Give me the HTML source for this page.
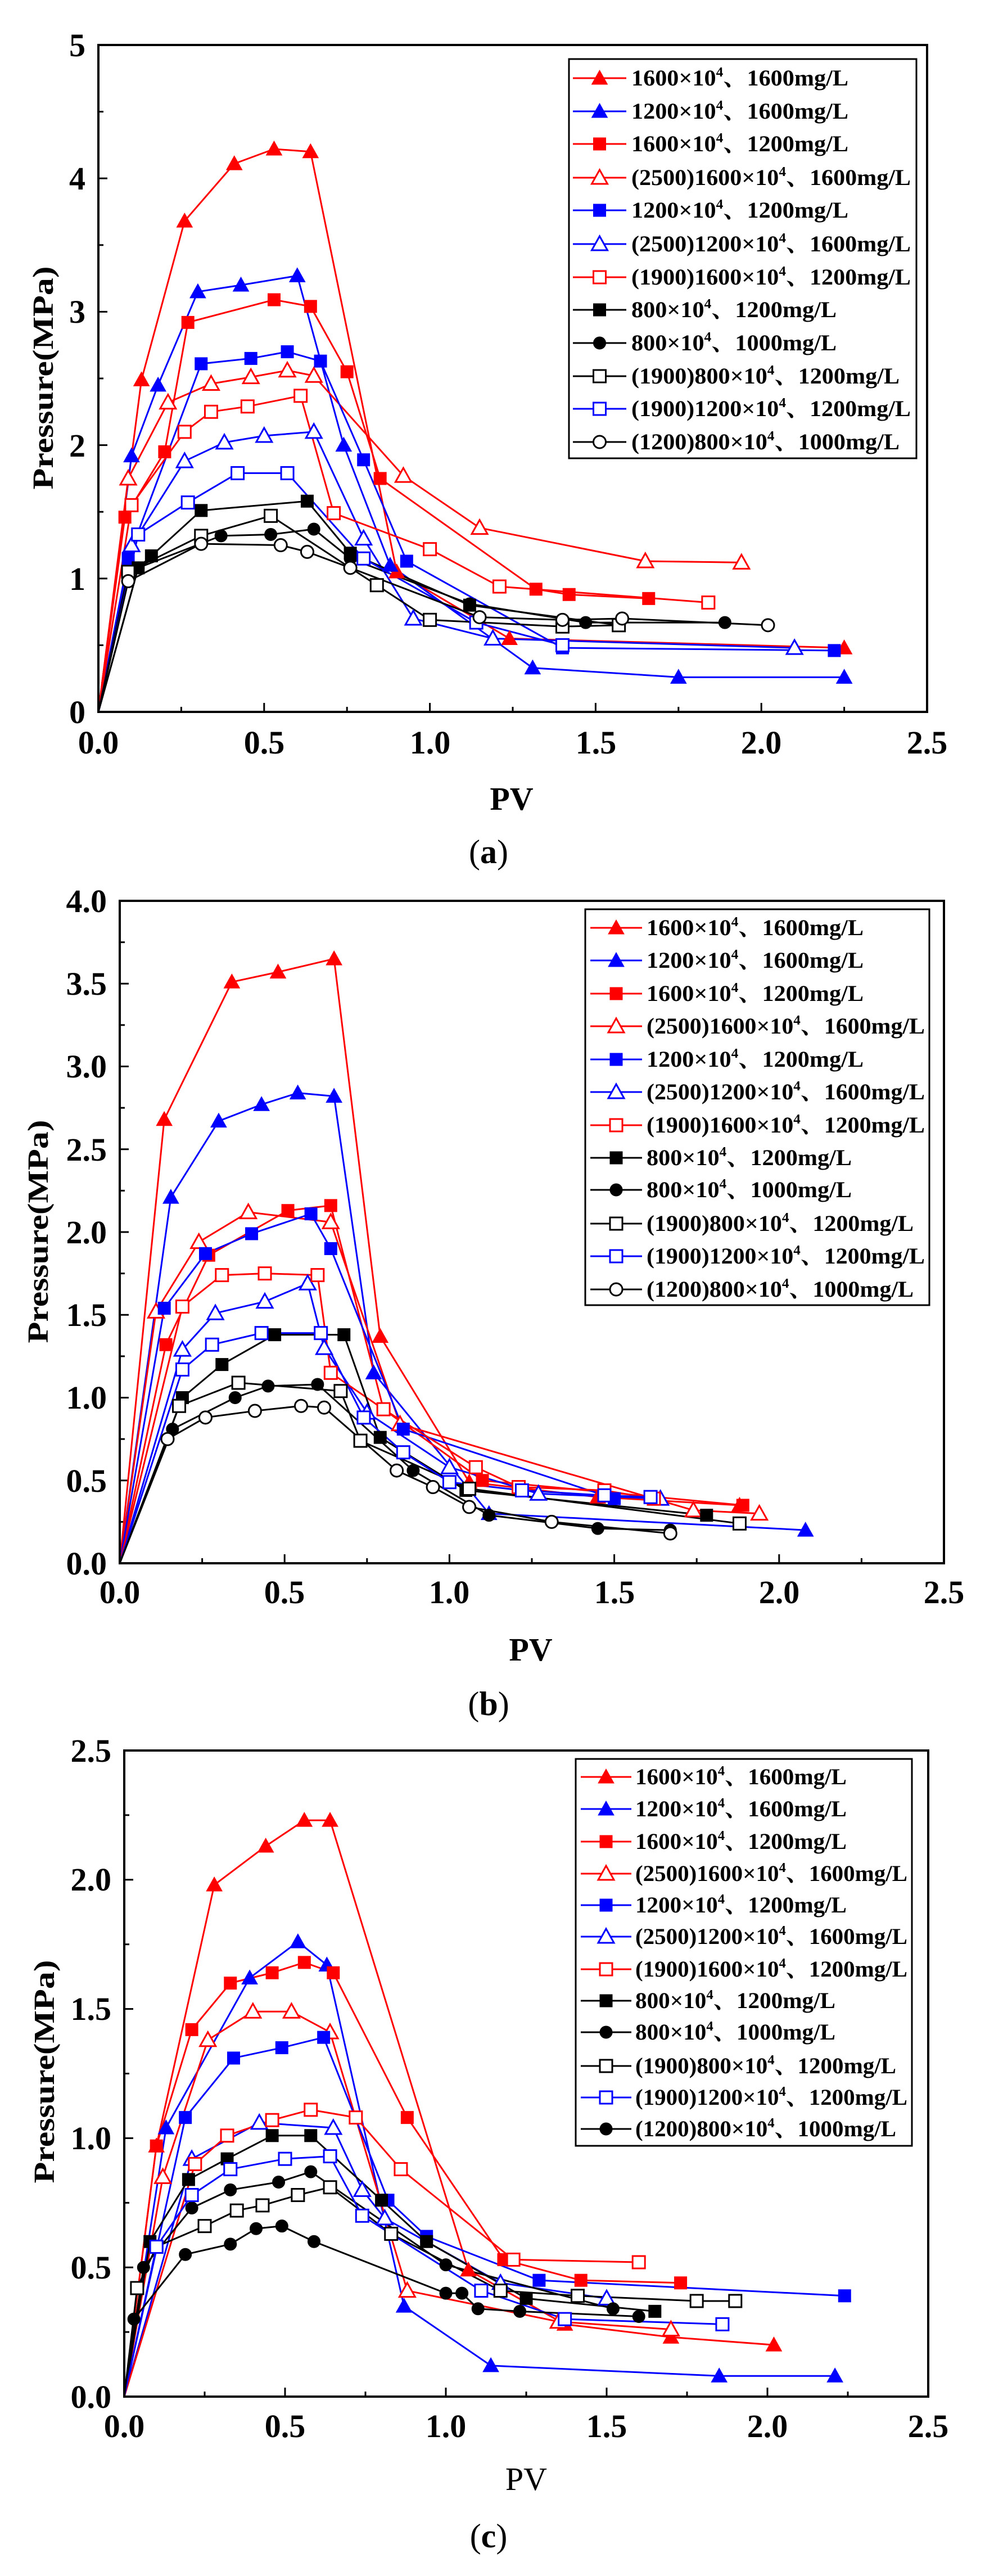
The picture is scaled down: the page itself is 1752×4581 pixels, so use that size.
<!DOCTYPE html>
<html><head><meta charset="utf-8"><style>
html,body{margin:0;padding:0;background:#fff;}
svg{display:block;}
text{font-family:"Liberation Serif","Noto Serif CJK SC",serif;}
</style></head><body>
<svg id="s" width="1752" height="4581" viewBox="0 0 1752 4581" xmlns="http://www.w3.org/2000/svg">
<rect width="1752" height="4581" fill="#fff"/>
<g id="plots"></g>
<!-- Panel a text -->
<g font-weight="bold" font-size="58" text-anchor="end">
<text x="152" y="1286">0</text><text x="152" y="1049">1</text><text x="152" y="812">2</text><text x="152" y="574">3</text><text x="152" y="337">4</text><text x="152" y="100">5</text>
</g>
<g font-weight="bold" font-size="58" text-anchor="middle">
<text x="175" y="1340">0.0</text><text x="470" y="1340">0.5</text><text x="765" y="1340">1.0</text><text x="1060" y="1340">1.5</text><text x="1354" y="1340">2.0</text><text x="1649" y="1340">2.5</text>
<text x="910" y="1440">PV</text>
</g>
<text font-weight="bold" font-size="52" text-anchor="middle" transform="translate(94,672) rotate(-90)" textLength="397" lengthAdjust="spacingAndGlyphs">Pressure(MPa)</text>
<text x="869" y="1535" font-size="60" text-anchor="middle">(<tspan font-weight="bold">a</tspan>)</text>

<!-- Panel b text -->
<g font-weight="bold" font-size="58" text-anchor="end">
<text x="190" y="2800">0.0</text><text x="190" y="2653">0.5</text><text x="190" y="2505">1.0</text><text x="190" y="2358">1.5</text><text x="190" y="2211">2.0</text><text x="190" y="2064">2.5</text><text x="190" y="1916">3.0</text><text x="190" y="1769">3.5</text><text x="190" y="1622">4.0</text>
</g>
<g font-weight="bold" font-size="58" text-anchor="middle">
<text x="213" y="2851">0.0</text><text x="506" y="2851">0.5</text><text x="799" y="2851">1.0</text><text x="1093" y="2851">1.5</text><text x="1386" y="2851">2.0</text><text x="1679" y="2851">2.5</text>
<text x="944" y="2953">PV</text>
</g>
<text font-weight="bold" font-size="52" text-anchor="middle" transform="translate(85,2190) rotate(-90)" textLength="397" lengthAdjust="spacingAndGlyphs">Pressure(MPa)</text>
<text x="869" y="3050" font-size="60" text-anchor="middle">(<tspan font-weight="bold">b</tspan>)</text>

<!-- Panel c text -->
<g font-weight="bold" font-size="58" text-anchor="end">
<text x="198" y="4282">0.0</text><text x="198" y="4052">0.5</text><text x="198" y="3822">1.0</text><text x="198" y="3592">1.5</text><text x="198" y="3362">2.0</text><text x="198" y="3133">2.5</text>
</g>
<g font-weight="bold" font-size="58" text-anchor="middle">
<text x="221" y="4334">0.0</text><text x="507" y="4334">0.5</text><text x="793" y="4334">1.0</text><text x="1079" y="4334">1.5</text><text x="1365" y="4334">2.0</text><text x="1651" y="4334">2.5</text>
</g>
<text x="936" y="4428" font-size="58" text-anchor="middle">PV</text>
<text font-weight="bold" font-size="52" text-anchor="middle" transform="translate(96,3684) rotate(-90)" textLength="397" lengthAdjust="spacingAndGlyphs">Pressure(MPa)</text>
<text x="869" y="4530" font-size="60" text-anchor="middle">(<tspan font-weight="bold">c</tspan>)</text>

<!-- Legend texts -->
<g font-weight="bold" font-size="40">
<text x="1123" y="152" textLength="386" lengthAdjust="spacingAndGlyphs">1600×10<tspan font-size="24" dy="-16">4</tspan><tspan dy="16">、1600mg/L</tspan></text>
<text x="1123" y="211" textLength="386" lengthAdjust="spacingAndGlyphs">1200×10<tspan font-size="24" dy="-16">4</tspan><tspan dy="16">、1600mg/L</tspan></text>
<text x="1123" y="269" textLength="386" lengthAdjust="spacingAndGlyphs">1600×10<tspan font-size="24" dy="-16">4</tspan><tspan dy="16">、1200mg/L</tspan></text>
<text x="1123" y="329" textLength="497" lengthAdjust="spacingAndGlyphs">(2500)1600×10<tspan font-size="24" dy="-16">4</tspan><tspan dy="16">、1600mg/L</tspan></text>
<text x="1123" y="387" textLength="386" lengthAdjust="spacingAndGlyphs">1200×10<tspan font-size="24" dy="-16">4</tspan><tspan dy="16">、1200mg/L</tspan></text>
<text x="1123" y="447" textLength="497" lengthAdjust="spacingAndGlyphs">(2500)1200×10<tspan font-size="24" dy="-16">4</tspan><tspan dy="16">、1600mg/L</tspan></text>
<text x="1123" y="506" textLength="497" lengthAdjust="spacingAndGlyphs">(1900)1600×10<tspan font-size="24" dy="-16">4</tspan><tspan dy="16">、1200mg/L</tspan></text>
<text x="1123" y="564" textLength="365" lengthAdjust="spacingAndGlyphs">800×10<tspan font-size="24" dy="-16">4</tspan><tspan dy="16">、1200mg/L</tspan></text>
<text x="1123" y="623" textLength="365" lengthAdjust="spacingAndGlyphs">800×10<tspan font-size="24" dy="-16">4</tspan><tspan dy="16">、1000mg/L</tspan></text>
<text x="1123" y="682" textLength="477" lengthAdjust="spacingAndGlyphs">(1900)800×10<tspan font-size="24" dy="-16">4</tspan><tspan dy="16">、1200mg/L</tspan></text>
<text x="1123" y="740" textLength="497" lengthAdjust="spacingAndGlyphs">(1900)1200×10<tspan font-size="24" dy="-16">4</tspan><tspan dy="16">、1200mg/L</tspan></text>
<text x="1123" y="799" textLength="477" lengthAdjust="spacingAndGlyphs">(1200)800×10<tspan font-size="24" dy="-16">4</tspan><tspan dy="16">、1000mg/L</tspan></text>
</g>
<g font-weight="bold" font-size="40">
<text x="1150" y="1663" textLength="386" lengthAdjust="spacingAndGlyphs">1600×10<tspan font-size="24" dy="-16">4</tspan><tspan dy="16">、1600mg/L</tspan></text>
<text x="1150" y="1721" textLength="386" lengthAdjust="spacingAndGlyphs">1200×10<tspan font-size="24" dy="-16">4</tspan><tspan dy="16">、1600mg/L</tspan></text>
<text x="1150" y="1780" textLength="386" lengthAdjust="spacingAndGlyphs">1600×10<tspan font-size="24" dy="-16">4</tspan><tspan dy="16">、1200mg/L</tspan></text>
<text x="1150" y="1838" textLength="495" lengthAdjust="spacingAndGlyphs">(2500)1600×10<tspan font-size="24" dy="-16">4</tspan><tspan dy="16">、1600mg/L</tspan></text>
<text x="1150" y="1897" textLength="386" lengthAdjust="spacingAndGlyphs">1200×10<tspan font-size="24" dy="-16">4</tspan><tspan dy="16">、1200mg/L</tspan></text>
<text x="1150" y="1955" textLength="495" lengthAdjust="spacingAndGlyphs">(2500)1200×10<tspan font-size="24" dy="-16">4</tspan><tspan dy="16">、1600mg/L</tspan></text>
<text x="1150" y="2014" textLength="495" lengthAdjust="spacingAndGlyphs">(1900)1600×10<tspan font-size="24" dy="-16">4</tspan><tspan dy="16">、1200mg/L</tspan></text>
<text x="1150" y="2072" textLength="365" lengthAdjust="spacingAndGlyphs">800×10<tspan font-size="24" dy="-16">4</tspan><tspan dy="16">、1200mg/L</tspan></text>
<text x="1150" y="2129" textLength="365" lengthAdjust="spacingAndGlyphs">800×10<tspan font-size="24" dy="-16">4</tspan><tspan dy="16">、1000mg/L</tspan></text>
<text x="1150" y="2189" textLength="475" lengthAdjust="spacingAndGlyphs">(1900)800×10<tspan font-size="24" dy="-16">4</tspan><tspan dy="16">、1200mg/L</tspan></text>
<text x="1150" y="2247" textLength="495" lengthAdjust="spacingAndGlyphs">(1900)1200×10<tspan font-size="24" dy="-16">4</tspan><tspan dy="16">、1200mg/L</tspan></text>
<text x="1150" y="2306" textLength="475" lengthAdjust="spacingAndGlyphs">(1200)800×10<tspan font-size="24" dy="-16">4</tspan><tspan dy="16">、1000mg/L</tspan></text>
</g>
<g font-weight="bold" font-size="40">
<text x="1130" y="3173" textLength="376" lengthAdjust="spacingAndGlyphs">1600×10<tspan font-size="24" dy="-16">4</tspan><tspan dy="16">、1600mg/L</tspan></text>
<text x="1130" y="3230" textLength="376" lengthAdjust="spacingAndGlyphs">1200×10<tspan font-size="24" dy="-16">4</tspan><tspan dy="16">、1600mg/L</tspan></text>
<text x="1130" y="3288" textLength="376" lengthAdjust="spacingAndGlyphs">1600×10<tspan font-size="24" dy="-16">4</tspan><tspan dy="16">、1200mg/L</tspan></text>
<text x="1130" y="3345" textLength="484" lengthAdjust="spacingAndGlyphs">(2500)1600×10<tspan font-size="24" dy="-16">4</tspan><tspan dy="16">、1600mg/L</tspan></text>
<text x="1130" y="3401" textLength="376" lengthAdjust="spacingAndGlyphs">1200×10<tspan font-size="24" dy="-16">4</tspan><tspan dy="16">、1200mg/L</tspan></text>
<text x="1130" y="3457" textLength="484" lengthAdjust="spacingAndGlyphs">(2500)1200×10<tspan font-size="24" dy="-16">4</tspan><tspan dy="16">、1600mg/L</tspan></text>
<text x="1130" y="3515" textLength="484" lengthAdjust="spacingAndGlyphs">(1900)1600×10<tspan font-size="24" dy="-16">4</tspan><tspan dy="16">、1200mg/L</tspan></text>
<text x="1130" y="3571" textLength="356" lengthAdjust="spacingAndGlyphs">800×10<tspan font-size="24" dy="-16">4</tspan><tspan dy="16">、1200mg/L</tspan></text>
<text x="1130" y="3627" textLength="356" lengthAdjust="spacingAndGlyphs">800×10<tspan font-size="24" dy="-16">4</tspan><tspan dy="16">、1000mg/L</tspan></text>
<text x="1130" y="3687" textLength="464" lengthAdjust="spacingAndGlyphs">(1900)800×10<tspan font-size="24" dy="-16">4</tspan><tspan dy="16">、1200mg/L</tspan></text>
<text x="1130" y="3743" textLength="484" lengthAdjust="spacingAndGlyphs">(1900)1200×10<tspan font-size="24" dy="-16">4</tspan><tspan dy="16">、1200mg/L</tspan></text>
<text x="1130" y="3799" textLength="464" lengthAdjust="spacingAndGlyphs">(1200)800×10<tspan font-size="24" dy="-16">4</tspan><tspan dy="16">、1000mg/L</tspan></text>
</g>
</svg>
<script>
(function(){
var NS="http://www.w3.org/2000/svg";
var G=document.getElementById('plots');
function el(t,a){var e=document.createElementNS(NS,t);for(var k in a)e.setAttribute(k,a[k]);G.appendChild(e);return e;}
var R="#ff0000",B="#0000ff",K="#000000";
// style: [color, shape, filled]
var ST=[[R,'t',1],[B,'t',1],[R,'s',1],[R,'t',0],[B,'s',1],[B,'t',0],[R,'s',0],[K,'s',1],[K,'c',1],[K,'s',0],[B,'s',0],[K,'c',0]];
function marker(x,y,c,sh,f){
  var fill=f?c:'#fff',sw=f?0:3;
  if(sh=='t'){el('polygon',{points:(x)+','+(y-14)+' '+(x-14)+','+(y+11)+' '+(x+14)+','+(y+11),fill:fill,stroke:c,'stroke-width':f?1:3});}
  else if(sh=='s'){el('rect',{x:x-11,y:y-11,width:22,height:22,fill:fill,stroke:c,'stroke-width':f?1:3});}
  else {el('circle',{cx:x,cy:y,r:11,fill:fill,stroke:c,'stroke-width':f?1:3});}
}
function panel(P){
  var X=function(v){return P.l+(P.r-P.l)*v/2.5;}, Y=function(v){return P.b-(P.b-P.t)*v/P.ymax;};
  // ticks
  for(var v=0.25;v<2.5;v+=0.25){var maj=Math.abs(v*2-Math.round(v*2))<1e-6;el('line',{x1:X(v),x2:X(v),y1:P.b,y2:P.b-(maj?16:9),stroke:'#000','stroke-width':3});}
  for(var v=P.ym;v<P.ymax-1e-6;v+=P.ym){var maj=Math.abs(v/P.yM-Math.round(v/P.yM))<1e-6;el('line',{x1:P.l,x2:P.l+(maj?16:9),y1:Y(v),y2:Y(v),stroke:'#000','stroke-width':3});}
  // series
  P.d.forEach(function(s,i){
    var st=ST[i];var pts=s.map(function(p){return X(p[0])+','+Y(p[1]);}).join(' ');
    el('polyline',{points:pts,fill:'none',stroke:st[0],'stroke-width':3,'stroke-linejoin':'round'});
  });
  P.d.forEach(function(s,i){var st=ST[i];s.forEach(function(p,j){if(j==0&&p[0]==0)return;marker(X(p[0]),Y(p[1]),st[0],st[1],st[2]);});});
  el('rect',{x:P.l,y:P.t,width:P.r-P.l,height:P.b-P.t,fill:'none',stroke:'#000','stroke-width':4});
  // legend
  el('rect',{x:P.L[0],y:P.L[1],width:P.L[2]-P.L[0],height:P.L[3]-P.L[1],fill:'#fff',stroke:'#000','stroke-width':3});
  P.rows.forEach(function(y,i){var st=ST[i];if(P.last&&i==11)st=[K,'c',1];
    el('line',{x1:P.lx[0],x2:P.lx[1],y1:y,y2:y,stroke:st[0],'stroke-width':3});
    marker((P.lx[0]+P.lx[1])/2,y,st[0],st[1],st[2]);});
}
// move legend texts to front after legend boxes: plots group is before texts so fine
var A={l:175,r:1649,t:80,b:1266,ymax:5,yM:1,ym:0.5,L:[1012,105,1630,815],lx:[1019,1114],
rows:[139,198,256,316,374,434,493,551,610,669,727,786],
d:[
[[0,0],[0.13,2.49],[0.26,3.68],[0.41,4.11],[0.53,4.22],[0.64,4.2],[0.9,1.05],[1.24,0.55],[2.25,0.48]],
[[0,0],[0.10,1.92],[0.18,2.45],[0.30,3.15],[0.43,3.2],[0.60,3.27],[0.74,2.0],[0.88,1.1],[1.31,0.33],[1.75,0.26],[2.25,0.26]],
[[0,0],[0.08,1.46],[0.2,1.95],[0.27,2.92],[0.53,3.09],[0.64,3.04],[0.75,2.55],[0.85,1.75],[1.32,0.92],[1.42,0.88],[1.66,0.85]],
[[0,0],[0.09,1.75],[0.21,2.32],[0.34,2.46],[0.46,2.51],[0.57,2.56],[0.65,2.52],[0.92,1.77],[1.15,1.38],[1.65,1.13],[1.94,1.12]],
[[0,0],[0.09,1.15],[0.31,2.61],[0.46,2.65],[0.57,2.7],[0.67,2.63],[0.8,1.89],[0.93,1.13],[1.40,0.48],[2.22,0.46]],
[[0,0],[0.1,1.25],[0.26,1.88],[0.38,2.02],[0.5,2.07],[0.65,2.1],[0.8,1.3],[0.95,0.7],[1.19,0.55],[2.1,0.48]],
[[0,0],[0.1,1.55],[0.26,2.1],[0.34,2.25],[0.45,2.29],[0.61,2.37],[0.71,1.49],[1.0,1.22],[1.21,0.94],[1.84,0.82]],
[[0,0],[0.12,1.08],[0.16,1.17],[0.31,1.51],[0.63,1.58],[0.76,1.19],[1.12,0.8],[1.57,0.65]],
[[0,0],[0.12,1.08],[0.37,1.32],[0.52,1.33],[0.65,1.37],[0.76,1.15],[1.12,0.81],[1.47,0.67],[1.89,0.67]],
[[0,0],[0.09,1.05],[0.31,1.32],[0.52,1.47],[0.84,0.95],[1.0,0.69],[1.40,0.64],[1.57,0.65]],
[[0,0],[0.12,1.33],[0.27,1.57],[0.42,1.79],[0.57,1.79],[0.8,1.15],[1.14,0.67],[1.40,0.5]],
[[0,0],[0.09,0.98],[0.31,1.26],[0.55,1.25],[0.63,1.2],[0.76,1.08],[1.15,0.71],[1.40,0.69],[1.58,0.7],[2.02,0.65]]
]};
var Bp={l:213,r:1679,t:1602,b:2780,ymax:4,yM:0.5,ym:0.25,L:[1041,1617,1653,2321],lx:[1050,1142],
rows:[1650,1708,1767,1825,1884,1942,2001,2059,2116,2176,2234,2293],
d:[
[[0,0],[0.135,2.68],[0.34,3.51],[0.48,3.57],[0.65,3.65],[0.79,1.37],[1.06,0.49],[1.45,0.4],[1.88,0.35]],
[[0,0],[0.155,2.21],[0.30,2.67],[0.43,2.77],[0.54,2.84],[0.65,2.82],[0.77,1.15],[1.12,0.3],[2.08,0.2]],
[[0,0],[0.14,1.32],[0.27,1.86],[0.51,2.13],[0.64,2.16],[0.80,0.93],[1.1,0.5],[1.89,0.35]],
[[0,0],[0.11,1.52],[0.24,1.94],[0.39,2.12],[0.64,2.06],[0.85,0.84],[1.74,0.32],[1.94,0.3]],
[[0,0],[0.135,1.54],[0.26,1.87],[0.40,1.99],[0.58,2.11],[0.64,1.9],[0.86,0.81],[1.5,0.39]],
[[0,0],[0.19,1.29],[0.29,1.51],[0.44,1.58],[0.57,1.69],[0.62,1.3],[0.75,0.91],[1.0,0.58],[1.27,0.42],[1.64,0.39]],
[[0,0],[0.19,1.55],[0.31,1.74],[0.44,1.75],[0.6,1.74],[0.64,1.15],[0.8,0.93],[1.08,0.58],[1.21,0.46],[1.47,0.44],[1.62,0.39]],
[[0,0],[0.19,1.0],[0.31,1.2],[0.47,1.38],[0.68,1.38],[0.79,0.76],[1.05,0.44],[1.78,0.29]],
[[0,0],[0.16,0.81],[0.35,1.0],[0.45,1.07],[0.6,1.08],[0.89,0.56],[1.12,0.29],[1.45,0.21],[1.67,0.2]],
[[0,0],[0.18,0.95],[0.36,1.09],[0.67,1.04],[0.73,0.74],[1.06,0.45],[1.88,0.24]],
[[0,0],[0.19,1.17],[0.28,1.32],[0.43,1.39],[0.61,1.39],[0.74,0.88],[0.86,0.67],[1.0,0.49],[1.22,0.44],[1.47,0.41],[1.61,0.4]],
[[0,0],[0.145,0.75],[0.26,0.88],[0.41,0.92],[0.55,0.95],[0.62,0.94],[0.84,0.56],[0.95,0.46],[1.06,0.34],[1.31,0.25],[1.67,0.18]]
]};
var C={l:221,r:1651,t:3113,b:4262,ymax:2.5,yM:0.5,ym:0.25,L:[1024,3128,1622,3816],lx:[1033,1123],last:1,
rows:[3160,3217,3275,3332,3388,3444,3502,3558,3614,3674,3730,3786],
d:[
[[0,0],[0.1,0.97],[0.28,1.98],[0.44,2.13],[0.56,2.23],[0.64,2.23],[1.07,0.49],[1.37,0.28],[1.7,0.23],[2.02,0.2]],
[[0,0],[0.13,1.04],[0.39,1.62],[0.54,1.76],[0.63,1.67],[0.87,0.35],[1.14,0.12],[1.85,0.08],[2.21,0.08]],
[[0,0],[0.1,0.97],[0.21,1.42],[0.33,1.6],[0.46,1.64],[0.56,1.68],[0.65,1.64],[0.88,1.08],[1.18,0.53],[1.42,0.45],[1.73,0.44]],
[[0,0],[0.12,0.85],[0.26,1.38],[0.4,1.49],[0.52,1.49],[0.64,1.41],[0.88,0.41],[1.35,0.29],[1.7,0.26]],
[[0,0],[0.19,1.08],[0.34,1.31],[0.49,1.35],[0.62,1.39],[0.82,0.76],[0.94,0.62],[1.29,0.45],[2.24,0.39]],
[[0,0],[0.21,0.92],[0.42,1.06],[0.65,1.04],[0.74,0.8],[0.81,0.69],[1.17,0.44],[1.5,0.38]],
[[0,0],[0.22,0.9],[0.32,1.01],[0.46,1.07],[0.58,1.11],[0.72,1.08],[0.86,0.88],[1.21,0.53],[1.6,0.52]],
[[0,0],[0.08,0.6],[0.2,0.84],[0.32,0.92],[0.46,1.01],[0.58,1.01],[0.8,0.76],[0.94,0.6],[1.25,0.38],[1.65,0.33]],
[[0,0],[0.06,0.5],[0.21,0.73],[0.33,0.8],[0.48,0.83],[0.58,0.87],[1.0,0.51],[1.52,0.34]],
[[0,0],[0.04,0.42],[0.1,0.58],[0.25,0.66],[0.35,0.72],[0.43,0.74],[0.54,0.78],[0.64,0.81],[0.83,0.63],[1.17,0.41],[1.41,0.39],[1.78,0.37],[1.9,0.37]],
[[0,0],[0.1,0.58],[0.21,0.78],[0.33,0.88],[0.5,0.92],[0.64,0.93],[0.74,0.7],[1.11,0.41],[1.37,0.3],[1.86,0.28]],
[[0,0],[0.03,0.3],[0.19,0.55],[0.33,0.59],[0.41,0.65],[0.49,0.66],[0.59,0.6],[1.0,0.4],[1.05,0.4],[1.1,0.34],[1.23,0.33],[1.6,0.31]]
]};
ST[11]=ST[11];
panel(A);panel(Bp);
var save=ST[11];ST[11]=[K,'c',1];panel(C);ST[11]=save;
})();
</script>
</body></html>
